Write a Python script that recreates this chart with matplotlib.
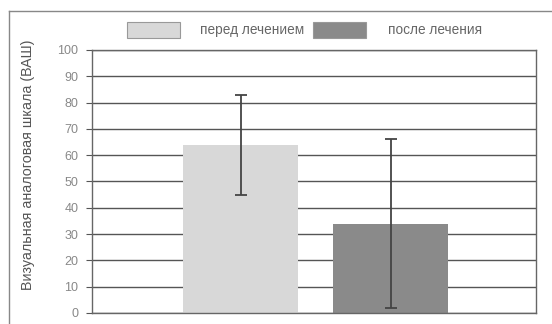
import numpy as np
import matplotlib.pyplot as plt
from matplotlib.patches import Rectangle
from matplotlib.lines import Line2D

plt.rcParams['font.family'] = ['Liberation Sans', 'DejaVu Sans']

labels = ['перед лечением', 'после лечения']
means = [64, 34]
errors = [19, 32]
colors = ['#d8d8d8', '#8a8a8a']
yticks = np.arange(0, 101, 10)

fig = plt.figure(figsize=(5.52, 3.24), dpi=100)
ax = fig.add_axes([0.167, 0.034, 0.804, 0.812])

x = np.arange(len(means))
ax.bar(x, means, width=0.77, color=colors, zorder=2)
ax.errorbar(x, means, yerr=errors, fmt='none', ecolor='#444444',
            elinewidth=1.3, capsize=4, capthick=1.3, zorder=3)

ax.set_xlim(-0.99, 1.97)
ax.set_ylim(0, 100)
ax.set_yticks(yticks)
ax.set_xticks([])
ax.yaxis.grid(True, color='#555555', linewidth=1.0, zorder=1)
ax.tick_params(axis='y', length=4, color='#555555', labelcolor='#888888',
               labelsize=9, pad=6)
for s in ax.spines.values():
    s.set_color('#666666')
    s.set_linewidth(1.0)

fig.text(0.05, 0.49, 'Визуальная аналоговая шкала (ВАШ)', rotation=90,
         ha='center', va='center', fontsize=10.3, color='#555555')

# legend drawn by hand in figure coordinates
for i, (lab, col) in enumerate(zip(labels, colors)):
    x0 = [127, 313][i] / 552
    fig.patches.append(Rectangle((x0, 1 - 38 / 324), 53 / 552, 16 / 324,
                                 transform=fig.transFigure, facecolor=col,
                                 edgecolor='#999999', linewidth=0.8))
    fig.text([200, 388][i] / 552, 1 - 30 / 324, lab, ha='left', va='center',
             fontsize=9.8, color='#666666')

# outer frame lines
fig.add_artist(Line2D([9 / 552, 9 / 552], [0, 1 - 11 / 324],
                      transform=fig.transFigure, color='#888888', linewidth=1))
fig.add_artist(Line2D([9 / 552, 1], [1 - 11 / 324, 1 - 11 / 324],
                      transform=fig.transFigure, color='#888888', linewidth=1))

fig.savefig('out.png', dpi=100)
